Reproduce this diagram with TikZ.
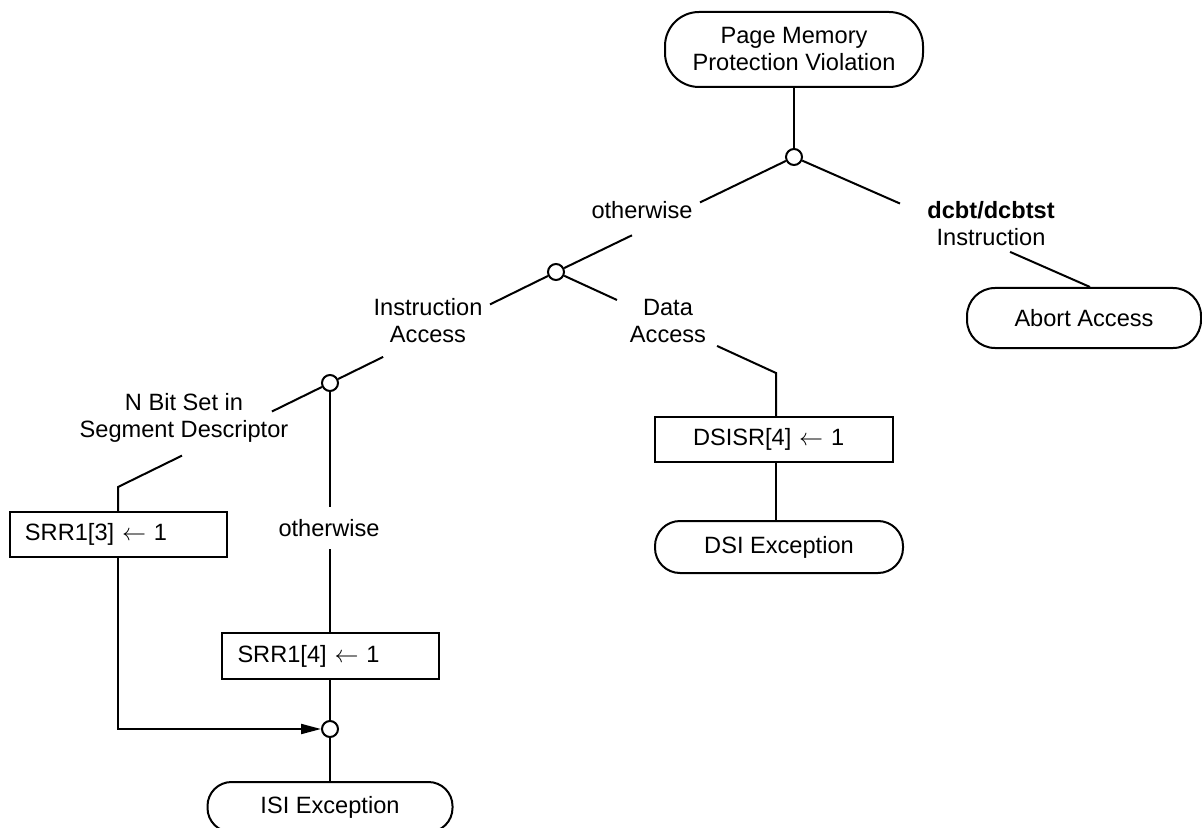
\documentclass[tikz,border=0pt]{standalone}
\usepackage{fontspec}
\setmainfont{Liberation Sans}
\usetikzlibrary{calc,arrows.meta}
\begin{document}
\begin{tikzpicture}[x=0.5pt,y=-0.5pt, line width=1pt,
  every node/.style={font=\fontsize{11.8}{13.5}\selectfont},
  term/.style={draw, rectangle, align=center, inner sep=0pt},
  junc/.style={draw, circle, fill=white, minimum size=8pt, inner sep=0pt},
  act/.style={draw, rectangle, align=left, inner ysep=0pt},
  cond/.style={align=center, inner sep=0pt}]
\useasboundingbox (0,0) rectangle (1202,828);

% nodes
\node[term, minimum width=129pt, minimum height=37.5pt, rounded corners=17pt] (top) at (794,49.5) {Page Memory\\Protection Violation};
\node[junc] (c1) at (794,157) {};
\node[term, minimum width=117pt, minimum height=30pt, rounded corners=14pt] (abort) at (1084,318) {Abort Access};
\node[cond] (l1) at (642,210) {otherwise};
\node[cond] (l2) at (991,224) {\textbf{dcbt/dcbtst}\\Instruction};
\node[junc] (c2) at (556,272) {};
\node[cond] (l3) at (428,321) {Instruction\\Access};
\node[cond] (l4) at (668,321) {Data\\Access};
\coordinate (bD) at (776,373);
\node[act, minimum height=22.5pt, inner xsep=19pt, text width=81pt] (dsisr) at (774,439.5) {DSISR[4] $\leftarrow$ 1};
\node[term, minimum width=124pt, minimum height=26pt, rounded corners=12.5pt] (dsi) at (779,547) {DSI Exception};
\node[junc] (c3) at (330,383) {};
\node[cond] (l5) at (184,418) {N Bit Set in\\Segment Descriptor};
\coordinate (bN) at (118,487);
\node[act, minimum height=22.5pt, inner xsep=7.5pt, text width=93.5pt] (srr3) at (118.5,534.5) {SRR1[3] $\leftarrow$ 1};
\node[cond] (l6) at (329,528) {otherwise};
\node[act, minimum height=23pt, inner xsep=8pt, text width=92.5pt] (srr4) at (330,656) {SRR1[4] $\leftarrow$ 1};
\node[junc] (c4) at (330,729) {};
\node[term, minimum width=122.5pt, minimum height=25pt, rounded corners=12pt] (isi) at (330,807) {ISI Exception};
\coordinate (bA) at ([xshift=3pt]abort.north);

% connectors
\draw (top) -- (c1);
\draw (c1) -- ($(c1)!0.395!(c2)$);
\draw ($(c1)!0.681!(c2)$) -- (c2);
\draw (c1) -- ($(c1)!0.358!(bA)$);
\draw ($(c1)!0.730!(bA)$) -- (bA);
\draw (c2) -- ($(c2)!0.277!(bD)$);
\draw ($(c2)!0.732!(bD)$) -- (bD) -- (bD |- dsisr.north);
\draw (dsisr.south -| bD) -- (dsi.north -| bD);
\draw (c2) -- ($(c2)!0.292!(c3)$);
\draw ($(c2)!0.765!(c3)$) -- (c3);
\draw (c3) -- ($(c3)!0.274!(bN)$);
\draw ($(c3)!0.698!(bN)$) -- (bN) -- (bN |- srr3.north);
\draw (c3) -- ($(c3)!0.496!(srr4.north)$);
\draw ($(c3)!0.668!(srr4.north)$) -- (srr4);
\draw (srr4) -- (c4);
\draw (c4) -- (isi);
\draw[-{Triangle[length=10pt,width=5pt]}] (srr3.south -| bN) |- (c4.west);
\end{tikzpicture}
\end{document}
